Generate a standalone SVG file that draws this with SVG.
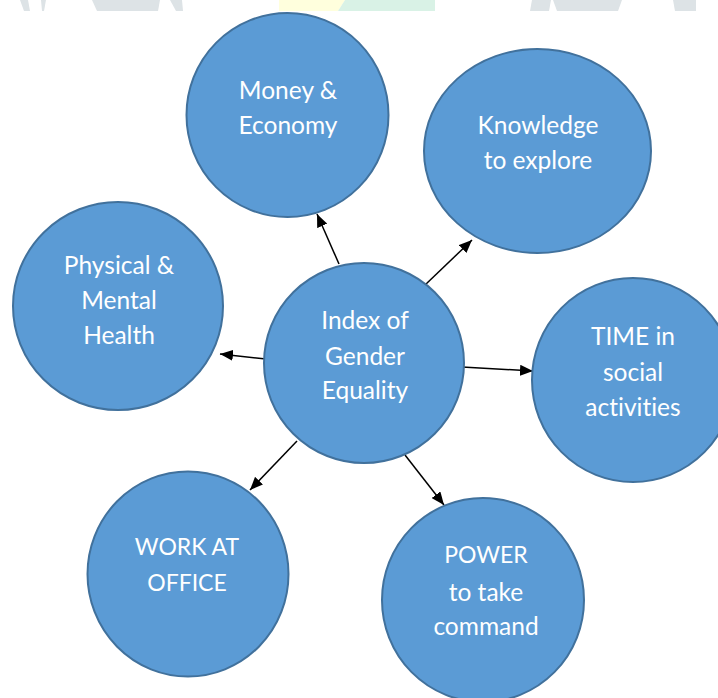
<svg xmlns="http://www.w3.org/2000/svg" width="718" height="698" viewBox="0 0 718 698">
  <style>
    .node ellipse { fill: #5B9BD5; stroke: #41719C; stroke-width: 2; }
    .node text { fill: #FFFFFF; font-family: Lato, "Liberation Sans", sans-serif; font-size: 24.5px; text-anchor: middle; font-variant-ligatures: none; }
    .node text.caps { font-size: 23px; }
    .conn line { stroke: #000000; stroke-width: 1.5; marker-end: url(#arrow); }
    .wm-g { fill: #DDE3E6; }
  </style>
  <defs>
    <marker id="arrow" markerUnits="userSpaceOnUse" markerWidth="13" markerHeight="11" viewBox="0 0 13 11" refX="13" refY="5.5" orient="auto">
      <path d="M0,0 L13,5.5 L0,11 z" fill="#000000"/>
    </marker>
  </defs>
  <rect x="0" y="0" width="718" height="698" fill="#FFFFFF"/>
  <g id="watermark">
    <polygon class="wm-g" points="20,0 28,0 30,11 24,11"/>
    <polygon class="wm-g" points="41,0 46,0 44,11 42,11"/>
    <polygon class="wm-g" points="92,0 160,0 158,11 97,11"/>
    <polygon class="wm-g" points="170,0 182,0 183,11 176,11"/>
    <polygon fill="#FFFFDD" points="279,0 345,0 338,11 279,11"/>
    <polygon fill="#D9F2E6" points="345,0 435,0 435,11 338,11"/>
    <polygon class="wm-g" points="532,0 551,0 549,11 530,11"/>
    <polygon class="wm-g" points="553,0 622,0 618,11 557,11"/>
    <polygon class="wm-g" points="673,0 696,0 696,11 675,11"/>
  </g>
  <g id="connectors" class="conn">
    <line x1="339" y1="264" x2="317" y2="214"/>
    <line x1="425" y1="285" x2="472" y2="240"/>
    <line x1="462" y1="367" x2="533" y2="371"/>
    <line x1="266" y1="359" x2="220" y2="354"/>
    <line x1="297" y1="441" x2="250" y2="490"/>
    <line x1="405" y1="455" x2="444" y2="505"/>
  </g>
  <g id="money" class="node">
    <ellipse cx="287.5" cy="115" rx="101" ry="102"/>
    <text x="288" y="99">Money &amp;</text>
    <text x="288" y="134">Economy</text>
  </g>
  <g id="knowledge" class="node">
    <ellipse cx="537.5" cy="151" rx="113.5" ry="102"/>
    <text x="538" y="134">Knowledge</text>
    <text x="538" y="169">to explore</text>
  </g>
  <g id="physical" class="node">
    <ellipse cx="118" cy="306" rx="105" ry="104"/>
    <text x="119" y="274">Physical &amp;</text>
    <text x="119" y="309">Mental</text>
    <text x="119" y="344">Health</text>
  </g>
  <g id="index" class="node">
    <ellipse cx="364" cy="363" rx="100" ry="100"/>
    <text x="365" y="329">Index of</text>
    <text x="365" y="365">Gender</text>
    <text x="365" y="399">Equality</text>
  </g>
  <g id="time" class="node">
    <ellipse cx="633" cy="380" rx="101" ry="102"/>
    <text x="633" y="345">TIME in</text>
    <text x="633" y="381">social</text>
    <text x="633" y="416">activities</text>
  </g>
  <g id="work" class="node">
    <ellipse cx="188" cy="574" rx="100.5" ry="102.5"/>
    <text class="caps" x="187" y="555">WORK AT</text>
    <text class="caps" x="187" y="591">OFFICE</text>
  </g>
  <g id="power" class="node">
    <ellipse cx="483" cy="600" rx="101" ry="102"/>
    <text class="caps" x="486" y="563">POWER</text>
    <text x="486" y="601">to take</text>
    <text x="486" y="635">command</text>
  </g>
</svg>
